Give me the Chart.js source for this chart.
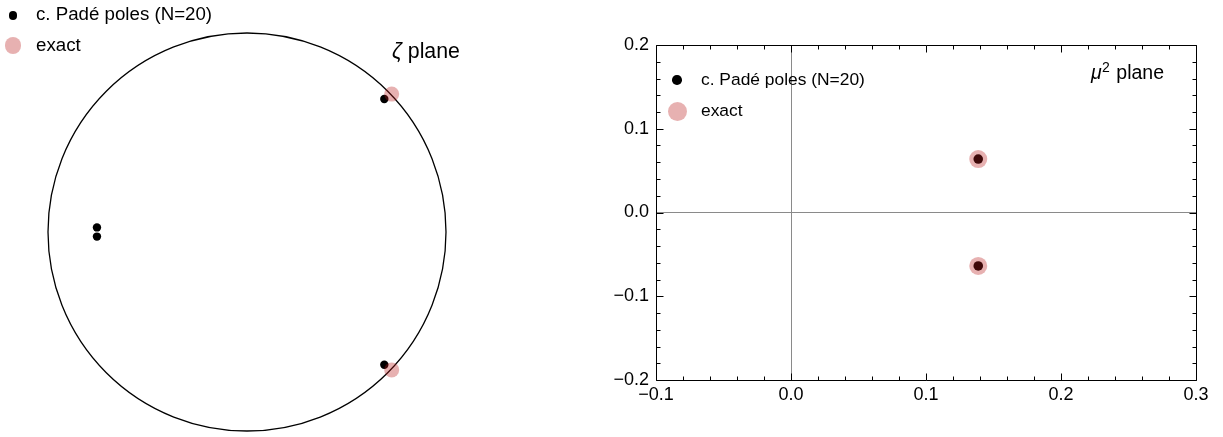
<!DOCTYPE html>
<html><head><meta charset="utf-8">
<script src="https://cdn.jsdelivr.net/npm/chart.js@4.4.1/dist/chart.umd.min.js"></script>
<style>
html,body{margin:0;padding:0;background:#fff;width:1223px;height:437px;overflow:hidden;font-family:"Liberation Sans",Arial,sans-serif;}
#wrapL{position:absolute;left:0;top:0;width:520px;height:437px;}
#wrapR{position:absolute;left:560px;top:0;width:663px;height:437px;}
.t{position:absolute;white-space:nowrap;line-height:1;color:#000;}
.dot{position:absolute;border-radius:50%;}
sup{font-size:0.72em;position:relative;top:-0.5em;vertical-align:baseline;line-height:0;margin-left:0.02em;margin-right:0.08em;}
</style></head><body>
<div id="wrapL"><canvas id="cL" width="520" height="437"></canvas></div>
<div id="wrapR"><canvas id="cR" width="663" height="437"></canvas></div>

<div id="legL"></div>
<div id="legR"></div>
<div class="t" style="left:392px;top:41.3px;font-size:21.3px;"><i>ζ</i> plane</div>
<div class="t" style="left:1091px;top:62.8px;font-size:19.5px;"><i>μ</i><sup>2</sup> plane</div>

<script>
// ---- data ----
const seriesNames = ['c. Padé poles (N=20)', 'exact'];
// zeta plane (left panel)
const padeZetaX = [-0.754, -0.754, 0.690, 0.690];
const padeZetaY = [0.023, -0.023, 0.668, -0.667];
const exactZetaX = [0.727, 0.727];
const exactZetaY = [0.693, -0.693];
// mu^2 plane (right panel)
const padeMu2X = [0.1387, 0.1387];
const padeMu2Y = [0.0638, -0.0638];
const exactMu2X = [0.1387, 0.1387];
const exactMu2Y = [0.0638, -0.0638];
// tick labels
const xTickValues = [-0.1, 0, 0.1, 0.2, 0.3];
const xTickLabels = ['\u22120.1', '0.0', '0.1', '0.2', '0.3'];
const yTickValues = [-0.2, -0.1, 0, 0.1, 0.2];
const yTickLabels = ['\u22120.2', '\u22120.1', '0.0', '0.1', '0.2'];

const black = '#000000';
const pink = 'rgba(185,25,25,0.34)';
const FONT = '"Liberation Sans", Arial, sans-serif';

function pts(xs, ys){ return xs.map((x,i)=>({x:x, y:ys[i]})); }

// ---- legends (HTML text) ----
function legend(el, items){
  el.innerHTML = items.map(it =>
    `<div class="dot" style="left:${it.cx-it.r}px;top:${it.cy-it.r}px;width:${2*it.r}px;height:${2*it.r}px;background:${it.c};"></div>` +
    `<div class="t" style="left:${it.tx}px;top:${it.ty}px;font-size:${it.fs}px;">${it.text}</div>`).join('');
}
legend(document.getElementById('legL'), [
  {cx:13, cy:15.5, r:4.2, c:black, tx:36, ty:4.9, fs:18.7, text:seriesNames[0]},
  {cx:13, cy:45.7, r:8.3, c:pink, tx:36, ty:35.9, fs:18.7, text:seriesNames[1]}
]);
legend(document.getElementById('legR'), [
  {cx:677, cy:80, r:4.8, c:black, tx:701, ty:71.3, fs:17.4, text:seriesNames[0]},
  {cx:677, cy:111, r:9.5, c:pink, tx:701, ty:102, fs:17.4, text:seriesNames[1]}
]);

// ---- left chart: zeta plane with unit circle ----
const unitCircle = {
  id: 'unitCircle',
  beforeDatasetsDraw(chart){
    const {ctx, scales:{x, y}} = chart;
    const cx = x.getPixelForValue(0), cy = y.getPixelForValue(0);
    const r = x.getPixelForValue(1) - cx;
    ctx.save();
    ctx.beginPath();
    ctx.arc(cx, cy, r, 0, 2*Math.PI);
    ctx.lineWidth = 1.3;
    ctx.strokeStyle = '#000';
    ctx.stroke();
    ctx.restore();
  }
};

new Chart(document.getElementById('cL'), {
  type: 'scatter',
  data: {
    datasets: [
      {label: seriesNames[1], data: pts(exactZetaX, exactZetaY), pointRadius: 7.5, pointBackgroundColor: pink, pointBorderWidth: 0, order: 0, clip: false},
      {label: seriesNames[0], data: pts(padeZetaX, padeZetaY), pointRadius: 4.2, pointBackgroundColor: black, pointBorderWidth: 0, order: 1, clip: false}
    ]
  },
  options: {
    responsive: false, animation: false, devicePixelRatio: 1,
    layout: {padding: 0, autoPadding: false},
    plugins: {legend: {display: false}, tooltip: {enabled: false}},
    scales: {
      x: {type: 'linear', display: false, min: -247/199, max: (520-247)/199},
      y: {type: 'linear', display: false, min: -(437-232)/199, max: 232/199}
    }
  },
  plugins: [unitCircle]
});

// ---- right chart: mu^2 plane ----
const frameTicks = {
  id: 'frameTicks',
  afterDatasetsDraw(chart){
    const {ctx, chartArea:a, scales:{x, y}} = chart;
    ctx.save();
    ctx.strokeStyle = '#000';
    ctx.lineWidth = 1;
    const L = Math.round(a.left)+0.5, R = Math.round(a.right)+0.5, T = Math.round(a.top)+0.5, B = Math.round(a.bottom)+0.5;
    ctx.beginPath();
    ctx.rect(L, T, R-L, B-T);
    ctx.stroke();
    ctx.beginPath();
    for (let i = -5; i <= 15; i++){
      const px = Math.round(x.getPixelForValue(i/50))+0.5;
      const len = (i % 5 === 0) ? 7 : 4;
      ctx.moveTo(px, B); ctx.lineTo(px, B-len);
      ctx.moveTo(px, T); ctx.lineTo(px, T+len);
    }
    for (let i = -10; i <= 10; i++){
      const py = Math.round(y.getPixelForValue(i/50))+0.5;
      const len = (i % 5 === 0) ? 7 : 4;
      ctx.moveTo(L, py); ctx.lineTo(L+len, py);
      ctx.moveTo(R, py); ctx.lineTo(R-len, py);
    }
    ctx.stroke();
    ctx.restore();
  }
};

const zeroGrid = c => (c.tick && Math.abs(c.tick.value) < 1e-9) ? '#8a8a8a' : 'rgba(0,0,0,0)';

new Chart(document.getElementById('cR'), {
  type: 'scatter',
  data: {
    datasets: [
      {label: seriesNames[1], data: pts(exactMu2X, exactMu2Y), pointRadius: 9, pointBackgroundColor: pink, pointBorderWidth: 0, order: 0, clip: false},
      {label: seriesNames[0], data: pts(padeMu2X, padeMu2Y), pointRadius: 4.8, pointBackgroundColor: black, pointBorderWidth: 0, order: 1, clip: false}
    ]
  },
  options: {
    responsive: false, animation: false, devicePixelRatio: 1,
    layout: {padding: {left: 0, right: 27, top: 45, bottom: 0}, autoPadding: false},
    plugins: {legend: {display: false}, tooltip: {enabled: false}},
    scales: {
      x: {
        type: 'linear', min: -0.1, max: 0.3,
        afterBuildTicks: s => { s.ticks = xTickValues.map(v => ({value: v})); },
        afterFit: s => { s.height = 57; },
        ticks: {padding: 4, color: '#000', font: {family: FONT, size: 18}, maxRotation: 0, autoSkip: false,
                callback: (v, i) => xTickLabels[i]},
        grid: {display: true, drawTicks: false, color: zeroGrid, lineWidth: 1},
        border: {display: false}
      },
      y: {
        type: 'linear', min: -0.2, max: 0.2,
        afterBuildTicks: s => { s.ticks = yTickValues.map(v => ({value: v})); },
        afterFit: s => { s.width = 96; },
        ticks: {padding: 7, color: '#000', font: {family: FONT, size: 18}, autoSkip: false,
                callback: (v, i) => yTickLabels[i]},
        grid: {display: true, drawTicks: false, color: zeroGrid, lineWidth: 1},
        border: {display: false}
      }
    }
  },
  plugins: [frameTicks]
});
</script>
</body></html>
